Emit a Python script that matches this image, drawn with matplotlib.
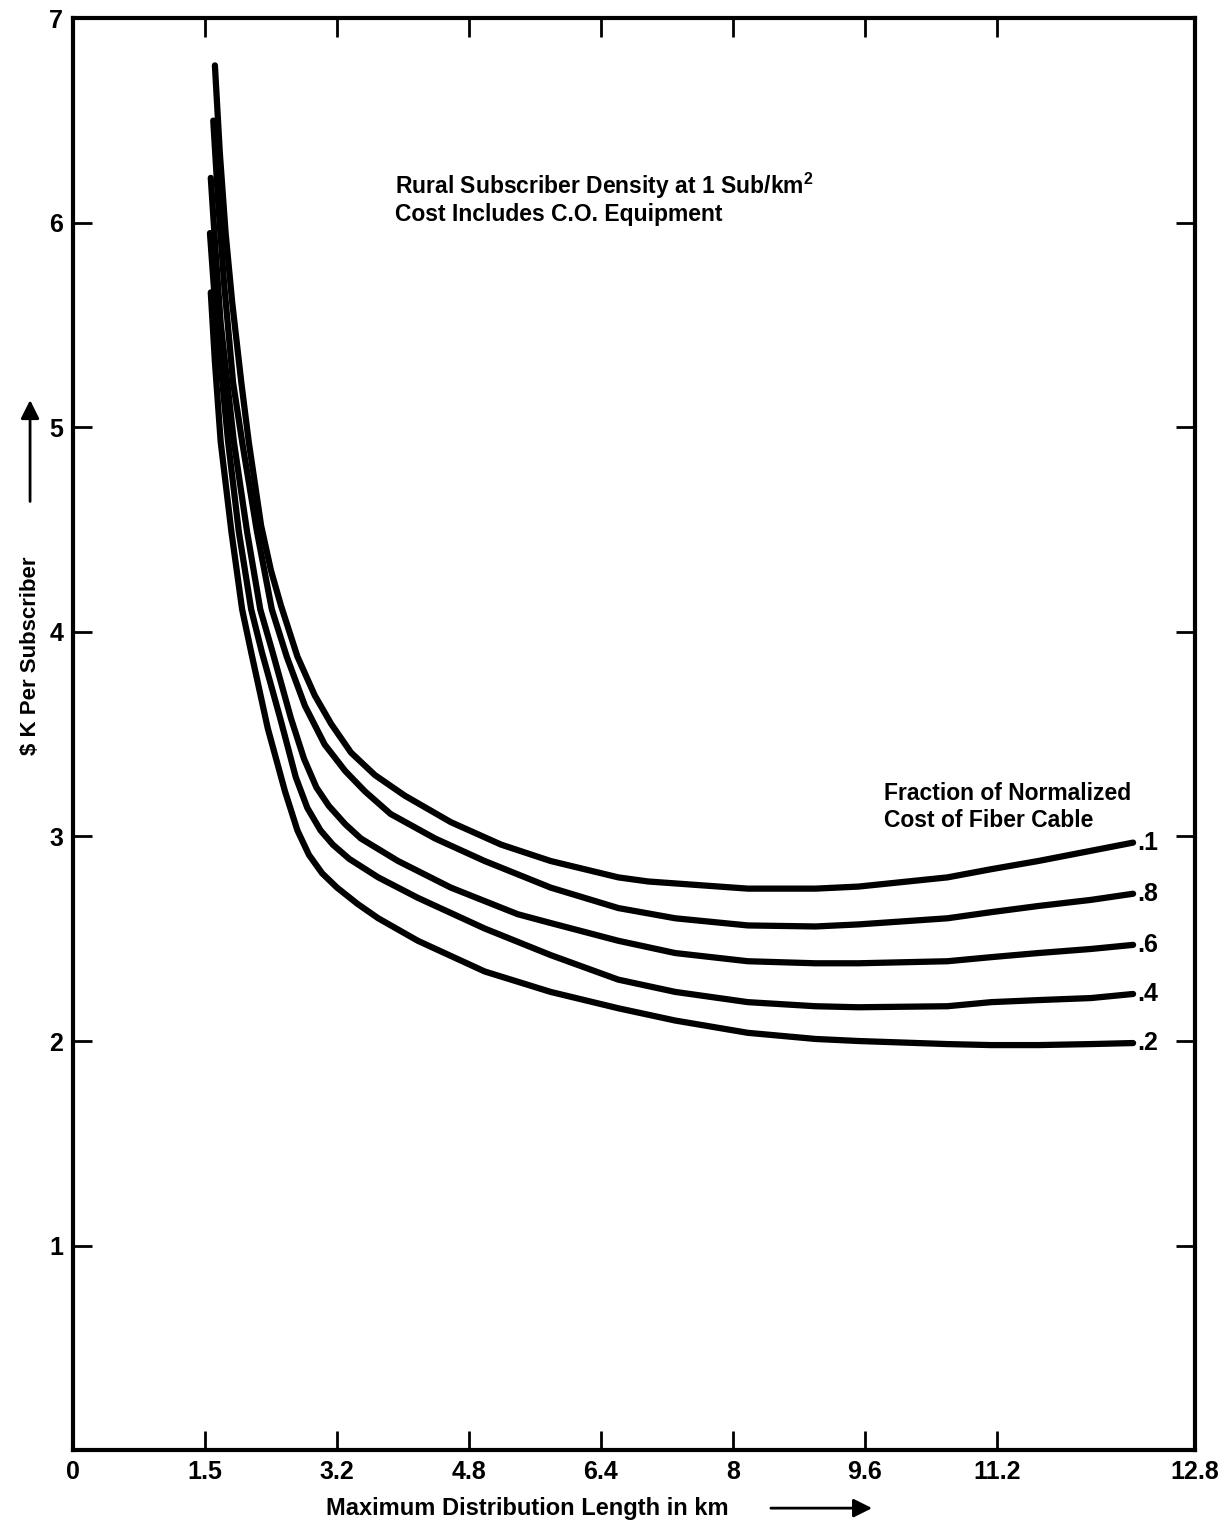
import matplotlib.pyplot as plt

plt.rcParams['font.family'] = ['Liberation Sans', 'DejaVu Sans']
plt.rcParams['font.weight'] = 'bold'
plt.rcParams['mathtext.fontset'] = 'custom'
plt.rcParams['mathtext.bf'] = 'Liberation Sans:bold'
plt.rcParams['mathtext.rm'] = 'Liberation Sans:bold'

# tick positions (km) and the labels printed on the chart
x_ticks = [0, 1.6, 3.2, 4.8, 6.4, 8.0, 9.6, 11.2, 13.6]
x_tick_labels = ['0', '1.5', '3.2', '4.8', '6.4', '8', '9.6', '11.2', '12.8']
y_ticks = [1, 2, 3, 4, 5, 6, 7]

# curves, one per fraction of normalized fiber cost
fractions = ['.1', '.8', '.6', '.4', '.2']

x_f1 = [1.72, 1.78, 1.85, 1.93, 2.04, 2.13, 2.28, 2.40, 2.52, 2.72, 2.93, 3.13,
        3.37, 3.66, 4.02, 4.58, 5.19, 5.79, 6.61, 6.97, 8.18, 9.0, 9.52, 10.6,
        11.13, 11.7, 12.34, 12.85]
y_f1 = [6.77, 6.34, 5.95, 5.61, 5.22, 4.93, 4.52, 4.30, 4.13, 3.88, 3.69, 3.55,
        3.41, 3.30, 3.20, 3.07, 2.96, 2.88, 2.80, 2.78, 2.745, 2.745, 2.755, 2.80,
        2.84, 2.88, 2.93, 2.97]

x_f8 = [1.70, 1.76, 1.83, 1.94, 2.05, 2.23, 2.41, 2.59, 2.81, 3.05, 3.30, 3.54,
        3.85, 4.39, 4.99, 5.79, 6.61, 7.3, 8.18, 9.0, 9.52, 10.6, 11.13, 11.7,
        12.34, 12.85]
y_f8 = [6.50, 6.10, 5.71, 5.22, 4.93, 4.49, 4.11, 3.88, 3.64, 3.45, 3.32, 3.22,
        3.11, 2.99, 2.88, 2.75, 2.65, 2.60, 2.565, 2.56, 2.57, 2.60, 2.63, 2.66,
        2.69, 2.72]

x_f6 = [1.67, 1.73, 1.79, 1.87, 1.95, 2.11, 2.27, 2.42, 2.64, 2.80, 2.95, 3.10,
        3.30, 3.49, 3.94, 4.58, 5.39, 5.76, 6.61, 7.3, 8.18, 9.0, 9.52, 10.6,
        11.13, 11.7, 12.34, 12.85]
y_f6 = [6.22, 5.85, 5.51, 5.22, 4.93, 4.49, 4.11, 3.90, 3.58, 3.38, 3.24, 3.15,
        3.06, 2.99, 2.88, 2.75, 2.62, 2.58, 2.49, 2.43, 2.39, 2.38, 2.38, 2.39,
        2.41, 2.43, 2.45, 2.47]

x_f4 = [1.66, 1.73, 1.81, 1.88, 2.01, 2.16, 2.29, 2.51, 2.70, 2.84, 3.00, 3.15,
        3.35, 3.70, 4.18, 4.99, 5.79, 6.61, 7.3, 8.18, 9.0, 9.52, 10.6, 11.13,
        11.7, 12.34, 12.85]
y_f4 = [5.95, 5.56, 5.22, 4.93, 4.49, 4.11, 3.90, 3.58, 3.29, 3.14, 3.03, 2.96,
        2.89, 2.80, 2.70, 2.55, 2.42, 2.30, 2.24, 2.19, 2.17, 2.165, 2.17, 2.19,
        2.20, 2.21, 2.23]

x_f2 = [1.67, 1.72, 1.79, 1.92, 2.05, 2.16, 2.36, 2.57, 2.72, 2.86, 3.02, 3.20,
        3.45, 3.70, 4.18, 4.99, 5.79, 6.61, 7.3, 8.18, 9.0, 9.52, 10.6, 11.13,
        11.7, 12.34, 12.85]
y_f2 = [5.66, 5.32, 4.93, 4.49, 4.11, 3.90, 3.53, 3.22, 3.03, 2.91, 2.82, 2.75,
        2.67, 2.60, 2.49, 2.34, 2.24, 2.16, 2.10, 2.04, 2.01, 2.00, 1.985, 1.98,
        1.98, 1.985, 1.99]

curves = [(x_f1, y_f1), (x_f8, y_f8), (x_f6, y_f6), (x_f4, y_f4), (x_f2, y_f2)]

fig = plt.figure(figsize=(12.27, 15.28), dpi=100)
ax = fig.add_axes([0.0595, 0.051, 0.9144, 0.937])

for (xs, ys), lab in zip(curves, fractions):
    ax.plot(xs, ys, color='black', lw=4.5, solid_capstyle='round', solid_joinstyle='round')
    ax.text(xs[-1] + 0.05, ys[-1], lab, fontsize=18, fontweight='bold', va='center', ha='left')

ax.set_xlim(0, 13.6)
ax.set_ylim(0, 7)
ax.set_xticks(x_ticks)
ax.set_xticklabels(x_tick_labels)
ax.set_yticks(y_ticks)
ax.tick_params(direction='in', top=True, right=True, length=14, width=2,
               labelsize=18, pad=7)
for s in ax.spines.values():
    s.set_linewidth(3)

ax.text(3.9, 6.18, 'Rural Subscriber Density at 1 Sub/km$^{\\mathbf{2}}$',
        fontsize=16.5, fontweight='bold', va='center', ha='left')
ax.text(3.9, 6.04, 'Cost Includes C.O. Equipment',
        fontsize=16.5, fontweight='bold', va='center', ha='left')

ax.text(9.83, 3.21, 'Fraction of Normalized', fontsize=16.5, fontweight='bold', va='center')
ax.text(9.83, 3.08, 'Cost of Fiber Cable', fontsize=16.5, fontweight='bold', va='center')

# axis titles with arrows, placed in figure coordinates
fig.text(0.4295, 0.013, 'Maximum Distribution Length in km', fontsize=17,
         fontweight='bold', ha='center', va='center')
ax.annotate('', xy=(0.713, 0.013), xytext=(0.626, 0.013), xycoords='figure fraction',
            arrowprops=dict(arrowstyle='-|>', lw=2, color='black', mutation_scale=28))

fig.text(0.0245, 0.571, '$ K Per Subscriber', fontsize=16, fontweight='bold',
         rotation=90, ha='center', va='center', parse_math=False)
ax.annotate('', xy=(0.0245, 0.740), xytext=(0.0245, 0.670), xycoords='figure fraction',
            arrowprops=dict(arrowstyle='-|>', lw=2, color='black', mutation_scale=28))

fig.savefig('out.png', dpi=100)
